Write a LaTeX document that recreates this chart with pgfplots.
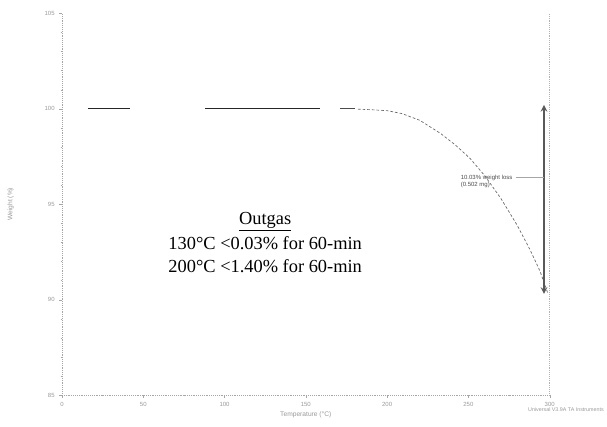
\documentclass[border=0pt]{standalone}
\usepackage{pgfplots}
\pgfplotsset{compat=1.18}
\usepackage{fontspec}
\setmainfont{Liberation Serif}
\setsansfont{Liberation Sans}
\begin{document}
\begin{tikzpicture}
\path[use as bounding box] (-46.5pt,-23.5pt) rectangle (409pt,296.5pt);
\begin{axis}[
  scale only axis, width=366pt, height=286.5pt,
  xmin=0, xmax=300, ymin=85, ymax=105,
  axis x line*=bottom, axis y line*=left,
  axis line style={gray!70, densely dotted, -},
  xtick={0,50,...,300}, ytick={85,90,...,105},
  minor x tick num=1, minor y tick num=4,
  tick style={gray!70},
  tick align=outside, major tick length=2pt, minor tick length=1pt,
  ticklabel style={font=\sffamily\fontsize{4.5}{4.5}\selectfont, text=gray!80},
  /pgf/number format/assume math mode=true,
  xlabel={Temperature (°C)}, ylabel={Weight (\%)},
  xlabel style={font=\sffamily\fontsize{5}{5}\selectfont, text=gray!80, yshift=3pt},
  every axis y label/.style={at={(axis description cs:-0.105,0.5)}, rotate=90, anchor=center,
    font=\sffamily\fontsize{5}{5}\selectfont, text=gray!80},
  clip=false,
]
\draw[gray!60, densely dotted] (axis cs:300,85) -- (axis cs:300,105);
% curve segments
\addplot[black!85, line width=0.9pt] coordinates {(16,100) (42,100)};
\addplot[black!85, line width=0.7pt] coordinates {(88,100) (159,100)};
\addplot[black!70, line width=0.7pt] coordinates {(171,100) (180,100)};
\addplot[black!60, line width=0.5pt, dash pattern=on 2pt off 1.5pt] coordinates {
 (182,99.98) (190,99.95) (200,99.9) (209,99.75) (220,99.4) (233,98.7) (242,98.1) (251,97.4) (260,96.5) (270,95.3) (280,93.9) (288,92.6) (294,91.5) (299,90.3)};
% weight loss arrow
\addplot[black!65, line width=1.2pt, <->, >=stealth] coordinates {(296.5,100.2) (296.5,90.3)};
\draw[gray!70, line width=0.3pt] (axis cs:279,96.4) -- (axis cs:296.5,96.4);
\node[font=\sffamily\fontsize{4.5}{5}\selectfont, text=black!70, align=left, anchor=east] at (axis cs:280,96.2) {10.03\% weight loss\\(0.502 mg)};
% outgas annotation
\node[font=\fontsize{13.8}{17.5}\selectfont, align=center] at (axis cs:125,93.0) {\underline{Outgas}\\[1pt]130°C <0.03\% for 60-min\\200°C <1.40\% for 60-min};
\node[font=\sffamily\fontsize{4}{4}\selectfont, text=gray!80, anchor=north] at (axis cs:310,84.6) {Universal V3.9A TA Instruments};
\end{axis}
\end{tikzpicture}
\end{document}
